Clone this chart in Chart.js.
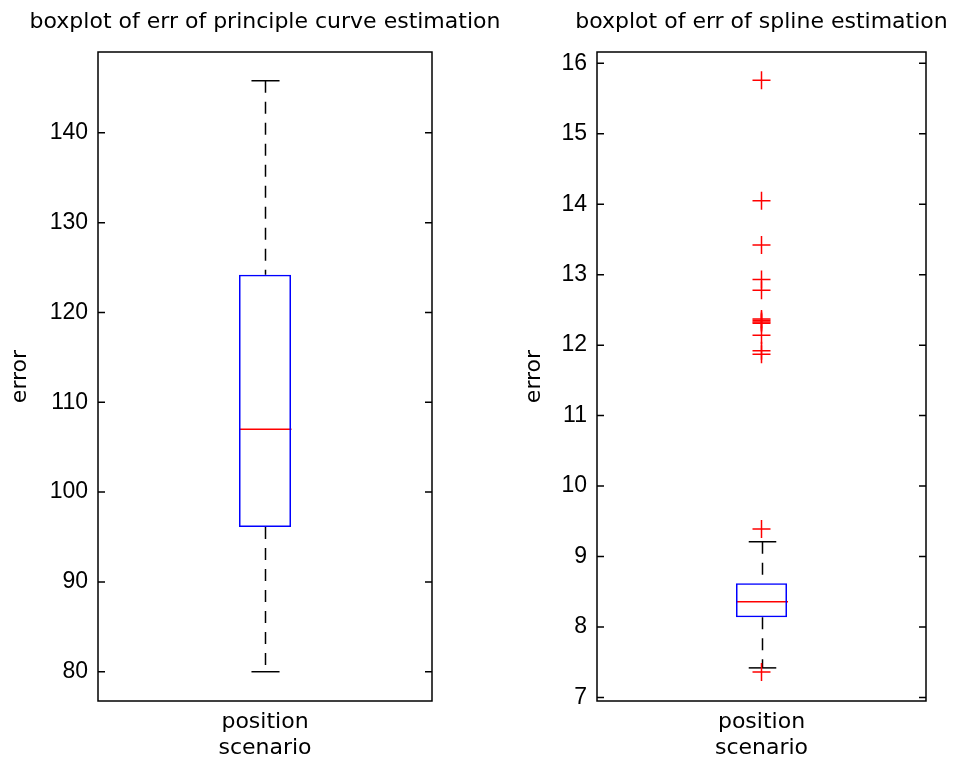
<!DOCTYPE html>
<html>
<head>
<meta charset="utf-8">
<script src="https://cdn.jsdelivr.net/npm/chart.js@4.4.0/dist/chart.umd.min.js"></script>
<style>
  html, body { margin: 0; padding: 0; background: #fff; overflow: hidden; width: 954px; height: 766px; }
  canvas { position: absolute; top: 0; }
  #chartPrinciple { left: 0; }
  #chartSpline { left: 520px; }
</style>
</head>
<body>
<canvas id="chartPrinciple" width="530" height="766"></canvas>
<canvas id="chartSpline" width="483" height="766"></canvas>
<script>
// --- data ---
const groupLabel = ['position', 'scenario'];

// min whisker, q1, median, q3, max whisker
const principleSummary = [80.0, 96.1, 107.0, 124.2, 145.8];
const principleOutliers = [];
const principleTicks = [80, 90, 100, 110, 120, 130, 140];
const principleRange = [76.74, 149.0];

const splineSummary = [7.42, 8.14, 8.36, 8.62, 9.21];
const splineOutliers = [15.76, 14.05, 13.42, 12.93, 12.78, 12.37, 12.35, 12.33, 12.31, 12.14, 11.92, 11.87, 9.39, 7.36];
const splineTicks = [7, 8, 9, 10, 11, 12, 13, 14, 15, 16];
const splineRange = [6.95, 16.16];

const textFont = '"DejaVu Sans", Verdana, sans-serif';
const numFont = '"Liberation Sans", Arial, sans-serif';
Chart.defaults.color = '#000';

// whiskers, caps, median, frame and inward ticks
const boxPlotExtras = {
    id: 'boxPlotExtras',
    beforeDatasetsDraw(chart, args, opts) {
        const bar = chart.getDatasetMeta(0).data[0];
        const y = chart.scales.y;
        const s = opts.summary;
        const ctx = chart.ctx;
        const cx = Math.round(bar.x) + 0.5;
        const half = bar.width / 2;
        const cap = bar.width * 0.27;
        const seg = (x1, y1, x2, y2) => { ctx.beginPath(); ctx.moveTo(x1, y1); ctx.lineTo(x2, y2); ctx.stroke(); };

        ctx.save();
        ctx.strokeStyle = '#000';
        ctx.lineWidth = 1.5;
        ctx.setLineDash([12, 9]);
        seg(cx, y.getPixelForValue(s[4]), cx, y.getPixelForValue(s[3]));
        seg(cx, y.getPixelForValue(s[1]), cx, y.getPixelForValue(s[0]));
        ctx.setLineDash([]);
        seg(cx - cap, y.getPixelForValue(s[4]), cx + cap, y.getPixelForValue(s[4]));
        seg(cx - cap, y.getPixelForValue(s[0]), cx + cap, y.getPixelForValue(s[0]));
        ctx.strokeStyle = '#ff0000';
        seg(cx - half, y.getPixelForValue(s[2]), cx + half, y.getPixelForValue(s[2]));
        ctx.restore();
    },
    afterDraw(chart) {
        const { ctx, chartArea: a } = chart;
        const y = chart.scales.y;
        ctx.save();
        ctx.strokeStyle = '#000';
        ctx.lineWidth = 1.5;
        ctx.strokeRect(a.left, a.top, a.right - a.left, a.bottom - a.top);
        y.ticks.forEach(t => {
            const py = y.getPixelForValue(t.value);
            ctx.beginPath();
            ctx.moveTo(a.left, py); ctx.lineTo(a.left + 7, py);
            ctx.moveTo(a.right, py); ctx.lineTo(a.right - 7, py);
            ctx.stroke();
        });
        ctx.restore();
    }
};

function makeBoxChart(id, title, summary, outliers, ticks, range, axisWidth, yTitlePad, barPct) {
    new Chart(document.getElementById(id), {
        type: 'bar',
        data: {
            labels: [groupLabel],
            datasets: [
                {
                    data: [[summary[1], summary[3]]],
                    backgroundColor: 'rgba(0,0,0,0)',
                    borderColor: '#0000ff',
                    borderWidth: 1.5,
                    borderSkipped: false,
                    barPercentage: barPct,
                    categoryPercentage: 1
                },
                {
                    type: 'line',
                    data: outliers.map(v => ({ x: 0, y: v })),
                    showLine: false,
                    pointStyle: 'cross',
                    pointRadius: 9,
                    pointHoverRadius: 9,
                    pointBorderColor: '#ff0000',
                    pointBorderWidth: 1.5
                }
            ]
        },
        options: {
            responsive: false,
            animation: false,
            devicePixelRatio: 1,
            layout: { padding: 0 },
            plugins: {
                legend: { display: false },
                tooltip: { enabled: false },
                title: {
                    display: true,
                    text: title,
                    color: '#000',
                    font: { family: textFont, size: 22, weight: 'normal' },
                    padding: { top: 9, bottom: 16.6 }
                },
                boxPlotExtras: { summary: summary }
            },
            scales: {
                x: {
                    grid: { display: false, drawTicks: false },
                    border: { display: false },
                    ticks: { font: { family: textFont, size: 22, lineHeight: 1.15 }, padding: 9, color: '#000' },
                    afterFit: s => { s.height = 65; }
                },
                y: {
                    min: range[0],
                    max: range[1],
                    grid: { display: false, drawTicks: false },
                    border: { display: false },
                    ticks: { font: { family: numFont, size: 23 }, padding: 10, color: '#000' },
                    afterBuildTicks: s => { s.ticks = ticks.map(v => ({ value: v })); },
                    afterFit: s => { s.width = axisWidth; },
                    title: {
                        display: true,
                        text: 'error',
                        color: '#000',
                        font: { family: textFont, size: 22 },
                        padding: { top: yTitlePad, bottom: 0 }
                    }
                },
                // empty axis on the right so the plot area sits centred under the title
                yPad: {
                    position: 'right',
                    grid: { display: false, drawTicks: false },
                    border: { display: false },
                    ticks: { display: false },
                    afterFit: s => { s.width = axisWidth; }
                }
            }
        },
        plugins: [boxPlotExtras]
    });
}

makeBoxChart('chartPrinciple', 'boxplot of err of principle curve estimation',
    principleSummary, principleOutliers, principleTicks, principleRange, 98, 7, 52 / 334);
makeBoxChart('chartSpline', 'boxplot of err of spline estimation',
    splineSummary, splineOutliers, splineTicks, splineRange, 77, 1, 51 / 329);
</script>
</body>
</html>
